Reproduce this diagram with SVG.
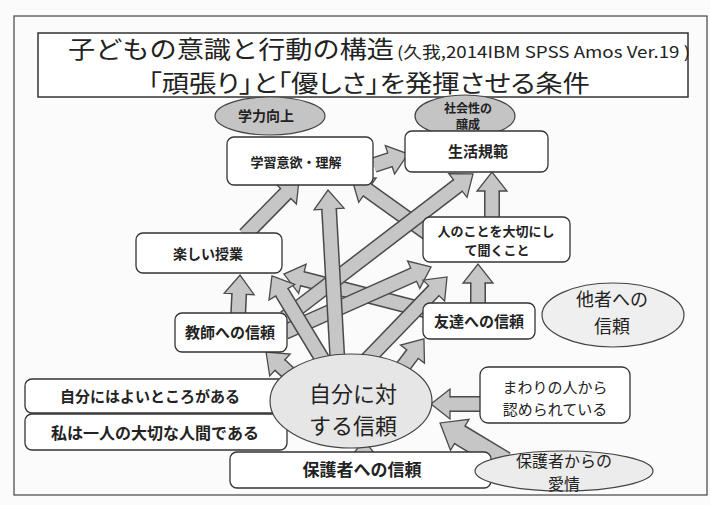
<svg xmlns="http://www.w3.org/2000/svg" width="710" height="505" viewBox="0 0 710 505">
<style>
.box{fill:#fff;stroke:#333;stroke-width:1.3}
.lat{stroke:#444;stroke-width:1.2}
.t{font-family:"Noto Sans CJK JP","Noto Sans",sans-serif;font-weight:bold;fill:#222;text-anchor:middle}
.tn{font-family:"Noto Sans CJK JP","Noto Sans",sans-serif;font-weight:normal;fill:#222;text-anchor:middle}
.ao{stroke:#4a4a4a;stroke-width:16;fill:none}
.ai{stroke:#c6c6c6;stroke-width:13;fill:none;marker-end:url(#ah)}
.aoL{stroke:#4a4a4a;stroke-width:22;fill:none}
.aiL{stroke:#c6c6c6;stroke-width:19;fill:none;marker-end:url(#ahL)}
</style>
<defs>
<marker id="ah" markerUnits="userSpaceOnUse" viewBox="-1 -16 21 32" markerWidth="21" markerHeight="32" refX="1" refY="0" orient="auto" overflow="visible">
<path d="M0,-6.5 L0,-15 L19,0 L0,15 L0,6.5" fill="#c6c6c6" stroke="#4a4a4a" stroke-width="1.3"/>
</marker>
<marker id="ahL" markerUnits="userSpaceOnUse" viewBox="-1 -20 25 40" markerWidth="25" markerHeight="40" refX="1" refY="0" orient="auto" overflow="visible">
<path d="M0,-9.5 L0,-18 L23,0 L0,18 L0,9.5" fill="#c6c6c6" stroke="#4a4a4a" stroke-width="1.3"/>
</marker>
</defs>
<rect width="710" height="505" fill="#fbfbfb"/>
<rect x="14" y="16" width="693" height="479" fill="none" stroke="#444" stroke-width="1.2"/>

<g id="title">
<rect x="38" y="33" width="650" height="64" fill="#fff" stroke="#333" stroke-width="1.5"/>
<text class="tn" x="68" y="58" font-size="24" textLength="326" lengthAdjust="spacingAndGlyphs" style="text-anchor:start">子どもの意識と行動の構造</text>
<text class="tn" x="397" y="58" font-size="16" textLength="293" lengthAdjust="spacingAndGlyphs" style="text-anchor:start">(久我,2014IBM SPSS Amos Ver.19 )</text>
<text class="tn" x="148" y="92" font-size="24" textLength="442" lengthAdjust="spacingAndGlyphs" style="text-anchor:start;font-feature-settings:'palt'">「頑張り」と「優しさ」を発揮させる条件</text>
</g>

<g id="connectors">
<g><line class="ao" x1="374" y1="165" x2="390.9" y2="159.5"/><line class="ai" x1="374" y1="165" x2="390.9" y2="159.5"/></g>
<g><line class="ao" x1="245" y1="235" x2="286.4" y2="192.8"/><line class="ai" x1="245" y1="235" x2="286.4" y2="192.8"/></g>
<g><line class="ao" x1="440" y1="242" x2="366.6" y2="189.5"/><line class="ai" x1="440" y1="242" x2="366.6" y2="189.5"/></g>
<g><line class="ao" x1="492" y1="225" x2="492" y2="190"/><line class="ai" x1="492" y1="225" x2="492" y2="190"/></g>
<g><line class="ao" x1="440" y1="314" x2="301.4" y2="278.5"/><line class="ai" x1="440" y1="314" x2="301.4" y2="278.5"/></g>
<g><line class="ao" x1="285" y1="318" x2="458.7" y2="184.9"/><line class="ai" x1="285" y1="318" x2="458.7" y2="184.9"/></g>
<g><line class="ao" x1="285" y1="332" x2="414.6" y2="274.3"/><line class="ai" x1="285" y1="332" x2="414.6" y2="274.3"/></g>
<g><line class="ao" x1="238" y1="318" x2="239.2" y2="293"/><line class="ai" x1="238" y1="318" x2="239.2" y2="293"/></g>
<g><line class="ao" x1="330" y1="372" x2="281.3" y2="291.4"/><line class="ai" x1="330" y1="372" x2="281.3" y2="291.4"/></g>
<g><line class="ao" x1="338" y1="370" x2="329" y2="208"/><line class="ai" x1="338" y1="370" x2="329" y2="208"/></g>
<g><line class="ao" x1="362" y1="365" x2="434.5" y2="289.9"/><line class="ai" x1="362" y1="365" x2="434.5" y2="289.9"/></g>
<g><line class="ao" x1="478" y1="310" x2="478" y2="282"/><line class="ai" x1="478" y1="310" x2="478" y2="282"/></g>
<g><line class="ao" x1="396" y1="376" x2="413.1" y2="353.3"/><line class="ai" x1="396" y1="376" x2="413.1" y2="353.3"/></g>
<g><line class="ao" x1="296" y1="380" x2="279.2" y2="364.3"/><line class="ai" x1="296" y1="380" x2="279.2" y2="364.3"/></g>
<g><line class="aoL" x1="505" y1="462" x2="458.9" y2="434.3"/><line class="aiL" x1="505" y1="462" x2="458.9" y2="434.3"/></g>
<g><line class="ao" x1="482" y1="404" x2="449" y2="404"/><line class="ai" x1="482" y1="404" x2="449" y2="404"/></g>
<g><line class="aoL" x1="364" y1="475" x2="364" y2="462"/><line class="aiL" x1="364" y1="475" x2="364" y2="462"/></g>
</g>

<g id="n-gakuryoku">
<ellipse class="lat" cx="270" cy="116" rx="55" ry="19" fill="#c4c4c4"/>
<text class="t" x="266" y="121" font-size="14">学力向上</text>
</g>
<g id="n-shakaisei">
<ellipse class="lat" cx="465" cy="116" rx="50" ry="21" fill="#c4c4c4"/>
<text class="t" x="468" y="113" font-size="12">社会性の</text>
<text class="t" x="468" y="129" font-size="12">醸成</text>
</g>
<g id="n-gakushu">
<rect class="box" x="227" y="137" width="146" height="48" rx="7"/>
<text class="t" x="296" y="167" font-size="13">学習意欲・理解</text>
</g>
<g id="n-seikatsu">
<rect class="box" x="405" y="131" width="143" height="41" rx="7"/>
<text class="t" x="478" y="157" font-size="15">生活規範</text>
</g>
<g id="n-tanoshii">
<rect class="box" x="136" y="233" width="146" height="40" rx="7"/>
<text class="t" x="208" y="259" font-size="14">楽しい授業</text>
</g>
<g id="n-hito">
<rect class="box" x="423" y="217" width="147" height="45" rx="7"/>
<text class="t" x="496" y="236" font-size="13">人のことを大切にし</text>
<text class="t" x="497" y="255" font-size="13">て聞くこと</text>
</g>
<g id="n-kyoshi">
<rect class="box" x="175" y="313" width="112" height="39" rx="7"/>
<text class="t" x="230" y="338" font-size="15">教師への信頼</text>
</g>
<g id="n-tomodachi">
<rect class="box" x="423" y="303" width="112" height="36" rx="7"/>
<text class="t" x="479" y="327" font-size="15">友達への信頼</text>
</g>
<g id="n-tasha">
<ellipse class="lat" cx="613" cy="315" rx="71" ry="32" fill="#efefef"/>
<text class="tn" x="612" y="306" font-size="18">他者への</text>
<text class="tn" x="612" y="333" font-size="18">信頼</text>
</g>
<g id="n-yoi">
<rect class="box" x="25" y="379" width="260" height="34" rx="7"/>
<text class="t" x="150" y="402" font-size="15">自分にはよいところがある</text>
</g>
<g id="n-watashi">
<rect class="box" x="25" y="414" width="262" height="36" rx="7"/>
<text class="t" x="155" y="439" font-size="16">私は一人の大切な人間である</text>
</g>
<g id="n-jibun">
<ellipse class="lat" cx="351" cy="401" rx="81" ry="47" fill="#e6e6e6"/>
<text class="tn" x="353" y="402" font-size="22">自分に対</text>
<text class="tn" x="353" y="434" font-size="22">する信頼</text>
</g>
<g id="n-mawari">
<rect class="box" x="480" y="367" width="150" height="56" rx="8"/>
<text class="tn" x="555" y="393" font-size="15">まわりの人から</text>
<text class="tn" x="555" y="415" font-size="15">認められている</text>
</g>
<g id="n-hogosha">
<rect class="box" x="230" y="452" width="261" height="36" rx="7"/>
<text class="t" x="362" y="476" font-size="17">保護者への信頼</text>
</g>
<g id="n-aijo">
<ellipse class="lat" cx="564" cy="471" rx="89" ry="20" fill="#ececec"/>
<text class="tn" x="564" y="467" font-size="16">保護者からの</text>
<text class="tn" x="564" y="490" font-size="16">愛情</text>
</g>
</svg>
